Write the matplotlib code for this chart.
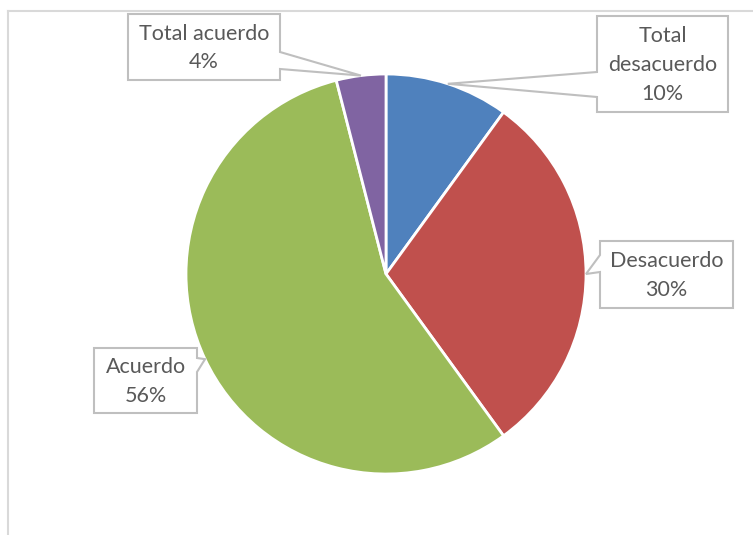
import numpy as np
import matplotlib
matplotlib.use("Agg")
import matplotlib.pyplot as plt
from matplotlib.patches import Polygon
from matplotlib.lines import Line2D

# Survey answers (percent)
labels = ["Total\ndesacuerdo", "Desacuerdo", "Acuerdo", "Total acuerdo"]
values = [10, 30, 56, 4]
colors = ["#4F81BD", "#C0504D", "#9BBB59", "#8064A2"]

W, H = 753, 535
CX, CY, R = 386, 274, 200  # pie centre and radius in pixels


def px(x, y):
    """pixel (y down) -> data units (pie radius = 1, y up)"""
    return (x - CX) / R, (CY - y) / R


fig = plt.figure(figsize=(W / 100, H / 100), dpi=100)
ax = fig.add_axes([0, 0, 1, 1])

wedges, _ = ax.pie(values, colors=colors, startangle=90, counterclock=False,
                   radius=1, center=(0, 0),
                   wedgeprops=dict(edgecolor="white", linewidth=2))

ax.set_xlim(px(0, 0)[0], px(W, 0)[0])
ax.set_ylim(px(0, H)[1], px(0, 0)[1])
ax.set_aspect("equal")
ax.axis("off")

# chart area border (left and top edges visible)
border = "#D9D9D9"
fig.add_artist(Line2D([8 / W, 8 / W], [0, 1 - 11 / H], transform=fig.transFigure,
                      color=border, lw=1.5))
fig.add_artist(Line2D([8 / W, 1], [1 - 11 / H, 1 - 11 / H], transform=fig.transFigure,
                      color=border, lw=1.5))

# callout boxes: (x0, y0, x1, y1) in pixels, pointer side, pointer base span
boxes = [
    ((597, 16, 728, 112), "left", (72, 97)),
    ((600, 241, 733, 308), "left", (255, 272)),
    ((94, 348, 197, 413), "right", (358, 372)),
    ((128, 14, 280, 80), "right", (52, 69)),
]

total = sum(values)
start = 0.0
for lab, val, (box, side, (ya, yb)) in zip(labels, values, boxes):
    mid = (start + val / 2) / total * 2 * np.pi  # clockwise from top
    start += val
    tip = (np.sin(mid), np.cos(mid))
    x0, y0, x1, y1 = box
    if side == "right":
        pts = [px(x0, y0), px(x1, y0), px(x1, ya), tip, px(x1, yb),
               px(x1, y1), px(x0, y1)]
    else:
        pts = [px(x0, y0), px(x1, y0), px(x1, y1), px(x0, y1), px(x0, yb),
               tip, px(x0, ya)]
    ax.add_patch(Polygon(pts, closed=True, facecolor="white",
                         edgecolor="#BFBFBF", lw=1.5, zorder=5))
    tx, ty = px((x0 + x1) / 2, (y0 + y1) / 2 + 1)
    ax.text(tx, ty, f"{lab}\n{val}%", ha="center", va="center",
            fontsize=15.5, family="Lato", color="#595959",
            linespacing=1.55, zorder=6)

fig.savefig("out.png", dpi=100, facecolor="white")
